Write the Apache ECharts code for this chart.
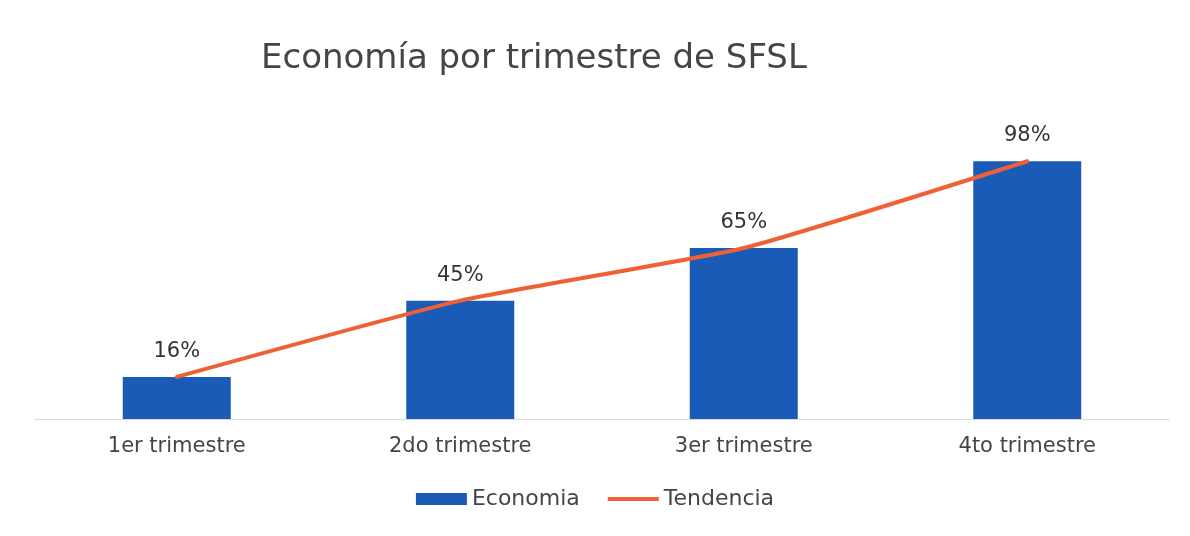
<!DOCTYPE html>
<html><head><meta charset="utf-8">
<script src="https://cdn.jsdelivr.net/npm/echarts@6/dist/echarts.min.js"></script>
<style>html,body{margin:0;padding:0;background:#fff}#c{width:1190px;height:536px}</style>
</head><body><div id="c"></div>
<script>
const categories = ['1er trimestre', '2do trimestre', '3er trimestre', '4to trimestre'];
const economia = [16, 45, 65, 98];
const tendencia = [16, 45, 65, 98];

const FONT = 'DejaVu Sans';
const chart = echarts.init(document.getElementById('c'));
chart.setOption({
  animation: false,
  backgroundColor: '#ffffff',
  title: {
    text: 'Economía por trimestre de SFSL',
    left: 256, top: 37,
    textStyle: { fontFamily: FONT, fontSize: 34, fontWeight: 'normal', color: '#454545' }
  },
  legend: {
    bottom: 21, left: 'center',
    itemGap: 28,
    textStyle: { fontFamily: FONT, fontSize: 22, color: '#454545', padding: [0, 0, 0, 0] },
    data: [
      { name: 'Economia', icon: 'rect', itemStyle: { color: '#1a5bb8' } },
      { name: 'Tendencia', icon: 'path://M0,0 L52,0 L52,4 L0,4 Z', itemStyle: { color: '#ef6035' } }
    ],
    itemWidth: 51, itemHeight: 12
  },
  grid: { left: 35, right: 21, top: 156, bottom: 117 },
  xAxis: {
    type: 'category', data: categories,
    axisLine: { lineStyle: { color: '#d9d9d9', width: 1 } },
    axisTick: { show: false },
    axisLabel: { fontFamily: FONT, fontSize: 21, color: '#454545', margin: 17 }
  },
  yAxis: { type: 'value', min: 0, max: 100, show: false, splitLine: { show: false } },
  series: [
    {
      name: 'Economia', type: 'bar', data: economia, barWidth: 108,
      itemStyle: { color: '#1a5bb8' },
      label: { show: true, position: 'top', distance: 15, formatter: '{c}%',
        fontFamily: FONT, fontSize: 21, color: '#333' }
    },
    {
      name: 'Tendencia', type: 'line', data: tendencia, smooth: 0.15,
      symbol: 'none', lineStyle: { color: '#ef6035', width: 4, cap: 'round' },
      itemStyle: { color: '#ef6035' }
    }
  ]
});
</script></body></html>
